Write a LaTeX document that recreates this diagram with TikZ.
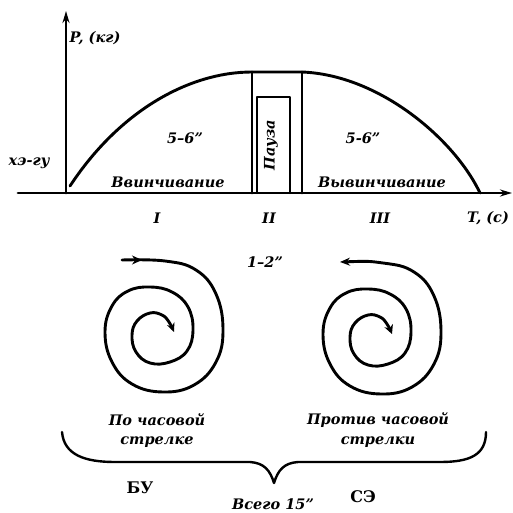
\documentclass[tikz,border=0pt]{standalone}
\usepackage{fontspec}
\setmainfont{DejaVu Serif}
\usetikzlibrary{arrows.meta}
\tikzset{
  lab/.style={font=\fontsize{14.5}{16}\selectfont\bfseries\itshape, inner sep=0pt},
  bold/.style={font=\fontsize{16}{18}\selectfont\bfseries, inner sep=0pt},
  thick line/.style={line width=2.9pt},
  ax/.style={line width=2.9pt, -{Stealth[length=12pt,width=7pt]}},
}
\newcommand{\spiralpath}{(122,260) (165,261) (196,270) (216,294) (223,330) (216,362) (194,385) (163,392) (132,384) (112,362) (105,332) (112,306) (128,291) (150,287) (172,292) (188,307) (193,330) (187,351) (170,362) (150,363) (136,352) (132,335) (137,321) (150,313) (162,315) (169,322) (174,332)}
\begin{document}
\begin{tikzpicture}[x=1pt,y=-1pt, line cap=round, line join=round]
\useasboundingbox (0,0) rectangle (513,513);
% axes
\coordinate (o) at (66,193);
\coordinate (xs) at (18,193);
\coordinate (xe) at (512,193);
\coordinate (ye) at (66,11);
\draw[ax] (xs) -- (xe);
\draw[ax] (o) -- (ye);
% curve
\draw[thick line] (70,186) .. controls (120,110) and (190,72) .. (252,72) -- (302,72) .. controls (380,75) and (455,140) .. (480,193);
% pause lines
\draw[thick line] (252,72) -- (252,193);
\draw[thick line] (302,72) -- (302,193);
\draw[line width=2.2pt] (257,193) -- (257,97) -- (290,97) -- (290,193);
% labels
\node[lab] (pl) at (95,38) {P, (кг)};
\node[lab] (hg) at (29,163) {хэ-гу};
\node[lab] (t1) at (185,138) {5–6"};
\node[lab] (t2) at (363,138) {5-6"};
\node[lab] (vv) at (168,182) {Ввинчивание};
\node[lab] (vy) at (382,182) {Вывинчивание};
\node[lab, rotate=90] (pz) at (271,145) {Пауза};
\node[lab] (r1) at (157,218) {I};
\node[lab] (r2) at (269,218) {II};
\node[lab] (r3) at (380,218) {III};
\node[lab] (tc) at (488,218) {T, (c)};
\node[lab] (t12) at (265,262) {1–2"};
% spirals
\draw[thick line, -{Stealth[length=9pt,width=8pt]}] plot[smooth, tension=0.7] coordinates {\spiralpath};
\draw[line width=1pt, -{Stealth[length=10pt,width=9pt]}] (122,260) -- (142,260);
\begin{scope}[shift={(218,2)}]
\draw[thick line, {Stealth[length=10pt,width=8pt]}-{Stealth[length=9pt,width=9pt]}] plot[smooth, tension=0.7] coordinates {\spiralpath};
\end{scope}
% brace texts
\node[lab] (pc1) at (157,420) {По часовой};
\node[lab] (pc2) at (157,442) {стрелке};
\node[lab] (pr1) at (378,420) {Против часовой};
\node[lab] (pr2) at (378,442) {стрелки};
% brace
\draw[line width=2.4pt] (62,432) .. controls (64,455) and (85,462) .. (115,462) -- (250,462) .. controls (264,463) and (270,470) .. (274,483) .. controls (278,470) and (284,463) .. (298,462) -- (440,462) .. controls (470,462) and (486,455) .. (486,432);
\node[bold] (bu) at (140,488) {БУ};
\node[bold] (se) at (363,497) {СЭ};
\node[lab] (vs) at (273,504) {Всего 15"};
\end{tikzpicture}
\end{document}
